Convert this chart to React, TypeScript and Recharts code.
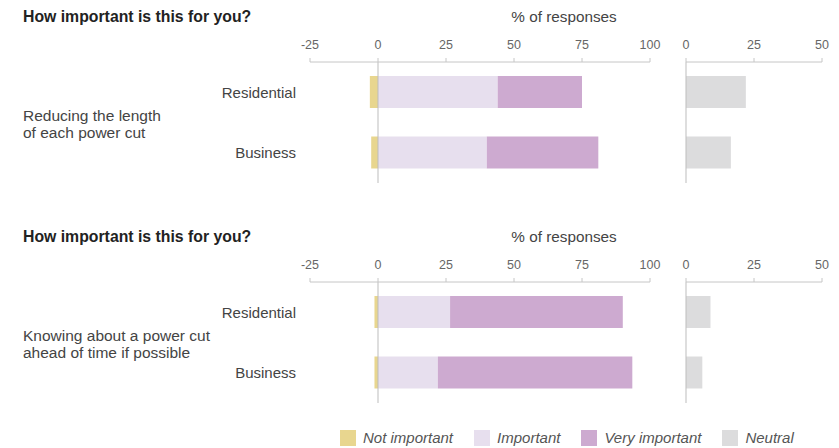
import React from 'react';
import { BarChart, Bar, XAxis, YAxis, ReferenceLine } from 'recharts';

const segments = ['Residential', 'Business'];
const questions = [
  ['Reducing the length', 'of each power cut'],
  ['Knowing about a power cut', 'ahead of time if possible'],
];
const panelTitle = 'How important is this for you?';
const axisTitle = '% of responses';

// Question 1: Reducing the length of each power cut
const notImportantQ1 = [3, 2.5];
const importantQ1 = [44, 40];
const veryImportantQ1 = [31, 41];
const neutralQ1 = [22, 16.5];

// Question 2: Knowing about a power cut ahead of time
const notImportantQ2 = [1.3, 1.3];
const importantQ2 = [26.5, 22];
const veryImportantQ2 = [63.5, 71.5];
const neutralQ2 = [9, 6];

const mainTicks = [-25, 0, 25, 50, 75, 100];
const neutralTicks = [0, 25, 50];

const seriesNames = ['Not important', 'Important', 'Very important', 'Neutral'];
const seriesColors = ['#e8d68f', '#e7dfee', '#cdaad0', '#dcdcdd'];

const FONT = '"Liberation Sans", Arial, Helvetica, sans-serif';
const AXIS_COLOR = '#c6c6c6';
const ZERO_COLOR = '#bdbdbd';

type Row = { segment: string; notImportant: number; important: number; veryImportant: number; neutral: number };

function buildRows(ni: number[], im: number[], vi: number[], ne: number[]): Row[] {
  return segments.map((s, i) => ({
    segment: s,
    notImportant: -ni[i],
    important: im[i],
    veryImportant: vi[i],
    neutral: ne[i],
  }));
}

const panels = [
  { question: questions[0], rows: buildRows(notImportantQ1, importantQ1, veryImportantQ1, neutralQ1) },
  { question: questions[1], rows: buildRows(notImportantQ2, importantQ2, veryImportantQ2, neutralQ2) },
];

const tickStyle = { fill: '#666', fontSize: 12.5 };

function Panel({ top, question, rows }: { top: number; question: string[]; rows: Row[] }) {
  return (
    <div style={{ position: 'absolute', left: 0, top, width: 839, height: 200 }}>
      <div
        style={{
          position: 'absolute',
          left: 23,
          top: 8,
          fontSize: 15.8,
          lineHeight: '17px',
          fontWeight: 'bold',
          color: '#222',
          whiteSpace: 'nowrap',
        }}
      >
        {panelTitle}
      </div>
      <div
        style={{
          position: 'absolute',
          left: 464,
          width: 200,
          top: 8,
          textAlign: 'center',
          fontSize: 15.3,
          lineHeight: '17px',
          color: '#444',
          whiteSpace: 'nowrap',
        }}
      >
        {axisTitle}
      </div>
      <div
        style={{
          position: 'absolute',
          left: 23,
          top: 107,
          fontSize: 15.5,
          lineHeight: '17px',
          color: '#444',
          whiteSpace: 'nowrap',
        }}
      >
        {question.map((l, i) => (
          <div key={i}>{l}</div>
        ))}
      </div>
      <div style={{ position: 'absolute', left: 0, top: 0 }}>
        <BarChart
          width={670}
          height={190}
          data={rows}
          layout="vertical"
          stackOffset="sign"
          barSize={32}
          margin={{ top: 32, right: 20, bottom: 7, left: 0 }}
        >
          <XAxis
            type="number"
            orientation="top"
            domain={[-25, 100]}
            ticks={mainTicks}
            interval={0}
            height={30}
            axisLine={{ stroke: AXIS_COLOR }}
            tickLine={{ stroke: AXIS_COLOR }}
            tickSize={4}
            tickMargin={9}
            tick={tickStyle}
          />
          <YAxis
            type="category"
            dataKey="segment"
            width={310}
            axisLine={false}
            tickLine={false}
            tickSize={0}
            tickMargin={14}
            tick={{ fill: '#444', fontSize: 15 }}
          />
          <Bar dataKey="notImportant" stackId="a" fill={seriesColors[0]} isAnimationActive={false} />
          <Bar dataKey="important" stackId="a" fill={seriesColors[1]} isAnimationActive={false} />
          <Bar dataKey="veryImportant" stackId="a" fill={seriesColors[2]} isAnimationActive={false} />
          <ReferenceLine x={0} stroke={ZERO_COLOR} />
        </BarChart>
      </div>
      <div style={{ position: 'absolute', left: 680, top: 0 }}>
        <BarChart
          width={159}
          height={190}
          data={rows}
          layout="vertical"
          barSize={32}
          margin={{ top: 32, right: 17, bottom: 7, left: 6 }}
        >
          <XAxis
            type="number"
            orientation="top"
            domain={[0, 50]}
            ticks={neutralTicks}
            interval={0}
            height={30}
            axisLine={{ stroke: AXIS_COLOR }}
            tickLine={{ stroke: AXIS_COLOR }}
            tickSize={4}
            tickMargin={9}
            tick={tickStyle}
          />
          <YAxis type="category" dataKey="segment" hide />
          <Bar dataKey="neutral" fill={seriesColors[3]} isAnimationActive={false} />
          <ReferenceLine x={0} stroke={ZERO_COLOR} />
        </BarChart>
      </div>
    </div>
  );
}

export default function App() {
  return (
    <div
      style={{
        position: 'absolute',
        left: 0,
        top: 0,
        width: 839,
        height: 448,
        background: '#fff',
        fontFamily: FONT,
        overflow: 'hidden',
      }}
    >
      {panels.map((p, i) => (
        <Panel key={i} top={i * 220} question={p.question} rows={p.rows} />
      ))}
      <div
        style={{
          position: 'absolute',
          left: 340,
          top: 429,
          display: 'flex',
          alignItems: 'center',
          fontSize: 15,
          lineHeight: '17px',
          fontStyle: 'italic',
          color: '#555',
          whiteSpace: 'nowrap',
        }}
      >
        {seriesNames.map((n, i) => (
          <div key={n} style={{ display: 'flex', alignItems: 'center', marginRight: 21 }}>
            <div style={{ width: 16, height: 16, background: seriesColors[i], marginRight: 7 }} />
            <span>{n}</span>
          </div>
        ))}
      </div>
    </div>
  );
}
